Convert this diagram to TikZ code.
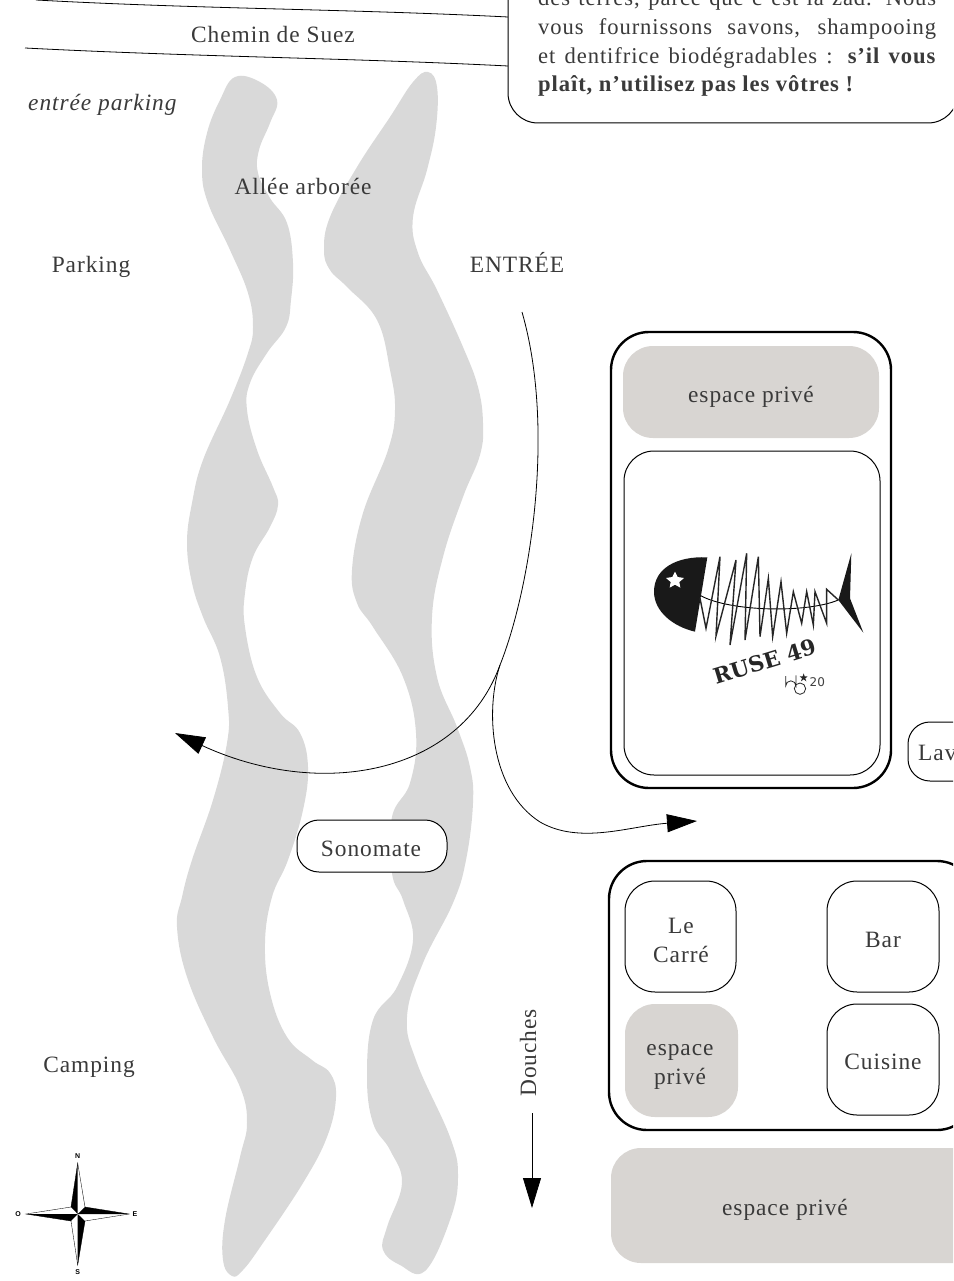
\documentclass[tikz,border=0pt]{standalone}
\usepackage{fontspec}
\setmainfont{Liberation Serif}[LetterSpace=4]
\newfontfamily\logofont{DejaVu Serif}
\newfontfamily\sansb{Liberation Sans}
\newfontfamily\sansd{DejaVu Sans}
\usetikzlibrary{arrows.meta}
\definecolor{ink}{HTML}{3A3A3A}
\definecolor{blobgray}{HTML}{D9D9D9}
\definecolor{privgray}{HTML}{D8D5D2}
\newcommand{\lbl}{\fontsize{23.4}{29}\selectfont}
\newcommand{\notefont}{\fontsize{22.6}{28.5}\selectfont}
\tikzset{
  x=1pt,y=-1pt,
  every node/.style={text=ink,font=\lbl,inner sep=0pt,align=center},
  notetext/.style={anchor=base west,font=\notefont},
  thinbox/.style={draw=black,line width=1pt,fill=white},
  thickbox/.style={draw=black,line width=2.4pt},
  privbox/.style={fill=privgray},
  road/.style={draw=black,line width=.8pt},
  flow/.style={draw=black,line width=.8pt,-{Triangle[length=30pt,width=18pt]}},
  blob/.style={fill=blobgray,draw=none},
  compasslabel/.style={font=\sansb\bfseries\fontsize{7}{7}\selectfont,text=black},
}
\begin{document}
\begin{tikzpicture}
\useasboundingbox (0,0) rectangle (953,1281);
\clip (0,0) rectangle (953,1281);
% blobs
\path[blob] plot[smooth cycle,tension=.68] coordinates {(235,77)(260,82)(277,100)(270,123)(259,150)(258,173)(270,198)(287,223)(293,263)(291,300)(286,327)(267,353)(250,383)(247,410)(257,450)(273,487)(278,505)(270,527)(253,557)(245,593)(245,627)(257,677)(280,713)(300,733)(308,767)(303,810)(288,860)(272,897)(265,943)(270,993)(287,1037)(312,1060)(330,1073)(336,1097)(327,1137)(303,1183)(263,1243)(243,1270)(232,1276)(223,1260)(225,1220)(240,1157)(247,1123)(240,1087)(213,1037)(187,977)(177,927)(182,897)(192,860)(213,800)(227,743)(228,707)(220,657)(203,617)(192,583)(187,543)(192,503)(203,460)(230,400)(248,353)(253,327)(248,293)(230,250)(208,203)(202,170)(207,133)(220,100)};
\path[blob] plot[smooth cycle,tension=.68] coordinates {(428,72)(437,87)(436,127)(427,170)(413,217)(418,253)(437,290)(463,347)(478,387)(483,423)(480,455)(463,497)(443,557)(432,617)(437,677)(457,727)(470,767)(473,803)(466,860)(453,903)(423,963)(407,1017)(417,1063)(450,1137)(458,1177)(450,1220)(425,1271)(400,1265)(383,1250)(387,1227)(402,1183)(390,1150)(373,1123)(367,1077)(373,1020)(397,987)(413,940)(403,900)(392,873)(392,817)(410,783)(416,733)(403,677)(373,627)(357,603)(352,570)(363,513)(388,450)(395,410)(390,370)(377,320)(347,287)(330,270)(324,250)(330,217)(357,167)(390,117)(413,82)};
% roads
\coordinate (roadAa) at (36,0); \coordinate (roadAb) at (508,17);
\coordinate (roadBa) at (25,48); \coordinate (roadBb) at (508,66);
\draw[road] (roadAa) .. controls (200,9) and (350,9) .. (roadAb);
\draw[road] (roadBa) .. controls (200,57) and (350,58) .. (roadBb);
% notice
\path[thinbox,rounded corners=30pt] (508,-60) rectangle (958,123);
\node[notetext] (noteA) at (538,6) {\hbox to 398pt{des terres, parce que c’est la zad. Nous}};
\node[notetext] (noteB) at (538,35) {\hbox to 398pt{vous fournissons savons, shampooing}};
\node[notetext] (noteC) at (538,63.5) {\hbox to 398pt{et dentifrice biodégradables : \textbf{s’il vous}}};
\node[notetext] (noteD) at (538,92) {\textbf{plaît, n’utilisez pas les vôtres !}};
% labels
\node (chemin) at (273,34) {Chemin de Suez};
\node[anchor=west] (parkin) at (28,105) {\itshape entrée parking};
\node (allee) at (303,186) {Allée arborée};
\node (parking) at (91,267) {Parking};
\node (entree) at (517,262) {ENTRÉE};
\node (camping) at (89,1067) {Camping};
% top block
\path[thickbox,rounded corners=38pt] (611,332) rectangle (891,788);
\path[privbox,rounded corners=30pt] (623,346) rectangle (879,438);
\node (privA) at (751,397) {espace privé};
\path[thinbox,rounded corners=30pt] (624,451) rectangle (880,775);
\path[thinbox,rounded corners=22pt] (908,722) rectangle (990,781);
\node[anchor=west] (lav) at (918,753) {Lav};
\path[thinbox,rounded corners=22pt] (297,820) rectangle (447,872);
\node (sono) at (371,849) {Sonomate};
% bottom block
\path[thickbox,rounded corners=38pt] (609,861) rectangle (975,1130);
\path[thinbox,rounded corners=30pt] (625,881) rectangle (736,992);
\node (carre) at (681,940) {Le\\Carré};
\path[thinbox,rounded corners=30pt] (827,881) rectangle (939,992);
\node (bar) at (883,940) {Bar};
\path[privbox,rounded corners=30pt] (625,1004) rectangle (738,1117);
\node (privB) at (680,1067) {espace\\privé};
\path[thinbox,rounded corners=30pt] (827,1004) rectangle (939,1115);
\node (cuisine) at (883,1062) {Cuisine};
\path[privbox,rounded corners=30pt] (611,1148) rectangle (985,1263);
\node (privC) at (785,1210) {espace privé};
% douches
\node[rotate=90] (douches) at (528,1053) {Douches};
\coordinate (dStart) at (532,1113); \coordinate (dEnd) at (532,1208);
\draw[flow] (dStart) -- (dEnd);
% flow curves
\coordinate (fA) at (522,312); \coordinate (fB) at (175,733);
\coordinate (fC) at (500,665); \coordinate (fD) at (697,821);
\draw[flow] (fA) .. controls (556,430) and (530,590) .. (500,665) .. controls (460,775) and (320,800) .. (fB);
\draw[flow] (fC) .. controls (485,710) and (490,790) .. (540,822) .. controls (580,845) and (630,826) .. (fD);
% fish
\begin{scope}[xshift=630pt,yshift=-530pt,x=.33333pt,y=-.33333pt]
\fill[black!90] (232,82) .. controls (140,78) and (72,115) .. (72,185) .. controls (72,245) and (130,290) .. (195,305) -- cycle;
\fill[white] (135,125)--(143,141)--(162,144)--(148,156)--(151,173)--(135,164)--(119,173)--(122,156)--(108,144)--(127,141)--cycle;
\fill[black!90] (664,70) -- (625,210) -- (700,308) -- (660,205) -- cycle;
\draw[black,line width=.9pt] (212,197) .. controls (300,245) and (530,250) .. (625,210);
\draw[black!85,line width=1.4pt,line join=miter] (210,205)--(228,295)--(270,80)--(258,318)--(318,90)--(300,345)--(350,70)--(345,330)--(385,80)--(390,320)--(415,145)--(428,320)--(453,155)--(470,310)--(490,185)--(515,280)--(530,185)--(550,285)--(555,185)--(590,280)--(590,178)--(625,210);
\node[rotate=17,font=\logofont\bfseries\fontsize{21.5}{21}\selectfont,text=black!85] (ruse) at (405,394) {RUSE 49};
\draw[black!85,line width=.8pt] (467,438)--(467,468) arc[start angle=180,end angle=360,radius=15.5]--(498,436);
\draw[black!85,line width=.8pt] (510,476) circle[radius=17];
\fill[black!85] (521,430)--(524,439)--(533,439)--(526,445)--(529,454)--(521,448)--(513,454)--(516,445)--(509,439)--(518,439)--cycle;
\node[font=\sansd\fontsize{12}{12}\selectfont,text=black!75] (twenty) at (562,456) {20};
\end{scope}
% compass
\coordinate (cC) at (77.7,1214);
\coordinate (cN) at (77.7,1163); \coordinate (cE) at (129,1214); \coordinate (cS) at (77.7,1265); \coordinate (cO) at (26,1214);
\coordinate (iNW) at (71,1207); \coordinate (iNE) at (85,1207); \coordinate (iSE) at (85,1221); \coordinate (iSW) at (71,1221);
\draw[black,line width=.35pt,fill=white] (cN)--(iNE)--(cE)--(iSE)--(cS)--(iSW)--(cO)--(iNW)--cycle;
\fill[black] (cN)--(iNW)--(cC)--cycle;
\fill[black] (cE)--(iNE)--(cC)--cycle;
\fill[black] (cS)--(iSE)--(cC)--cycle;
\fill[black] (cO)--(iSW)--(cC)--cycle;
\node[compasslabel] (lN) at (77.7,1156) {N};
\node[compasslabel] (lE) at (135,1214) {E};
\node[compasslabel] (lS) at (77.7,1272) {S};
\node[compasslabel] (lO) at (18,1214) {O};
\end{tikzpicture}
\end{document}
